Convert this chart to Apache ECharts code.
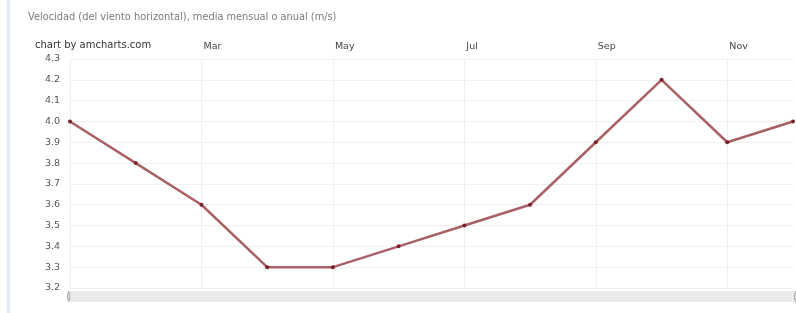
<!DOCTYPE html>
<html>
<head>
<meta charset="utf-8">
<script src="https://cdn.jsdelivr.net/npm/echarts@6/dist/echarts.min.js"></script>
<style>
  html, body { margin: 0; padding: 0; background: #fff; }
  #main { width: 796px; height: 313px; }
</style>
</head>
<body>
<div id="main"></div>
<script>
var months = ['Jan', 'Feb', 'Mar', 'Apr', 'May', 'Jun', 'Jul', 'Aug', 'Sep', 'Oct', 'Nov', 'Dec'];
var velocidad = [4.0, 3.8, 3.6, 3.3, 3.3, 3.4, 3.5, 3.6, 3.9, 4.2, 3.9, 4.0];

var chart = echarts.init(document.getElementById('main'));

// only every other month is labelled, starting at Mar
function showMonth(i) { return i % 2 === 0 && i > 0; }

var option = {
  animation: false,
  title: [
    {
      text: 'Velocidad (del viento horizontal), media mensual o anual (m/s)',
      left: 28, top: 12, padding: 0,
      textStyle: { fontSize: 9.8, fontWeight: 'normal', color: '#7a7a7a', fontFamily: 'DejaVu Sans' }
    },
    {
      text: 'chart by amcharts.com',
      left: 35, top: 40, padding: 0,
      textStyle: { fontSize: 10, fontWeight: 'normal', color: '#333', fontFamily: 'DejaVu Sans' }
    }
  ],
  graphic: [
    { type: 'rect', shape: { x: 7, y: 0, width: 3, height: 313 }, style: { fill: '#e3eaf7' } }
  ],
  grid: { left: 70, right: 3, top: 59, bottom: 25 },
  xAxis: {
    type: 'category',
    position: 'top',
    boundaryGap: false,
    data: months,
    axisLine: { show: false },
    axisTick: { show: false },
    axisLabel: {
      interval: function (i) { return showMonth(i); },
      align: 'left',
      padding: [0, 0, 0, 2],
      margin: 7,
      fontSize: 9.5,
      color: '#444',
      fontFamily: 'DejaVu Sans'
    },
    splitLine: {
      show: true,
      interval: function (i) { return i % 2 === 0; },
      lineStyle: { color: '#efefef', width: 1 }
    }
  },
  yAxis: {
    type: 'value',
    min: 3.2,
    max: 4.3,
    interval: 0.1,
    axisLine: { show: false },
    axisTick: { show: false },
    axisLabel: {
      margin: 10,
      fontSize: 9.5,
      color: '#555',
      fontFamily: 'DejaVu Sans',
      formatter: function (v) { return v.toFixed(1); }
    },
    splitLine: { lineStyle: { color: '#efefef', width: 1 } }
  },
  dataZoom: [{
    type: 'slider',
    xAxisIndex: 0,
    left: 67, right: 0, top: 291, height: 11,
    start: 0, end: 100,
    showDetail: false,
    showDataShadow: false,
    brushSelect: false,
    borderColor: 'transparent',
    backgroundColor: '#ebebeb',
    fillerColor: 'rgba(0,0,0,0)',
    handleSize: '100%',
    handleStyle: { color: '#e0e0e0', borderColor: '#aaa' },
    moveHandleSize: 0,
    dataBackground: { lineStyle: { opacity: 0 }, areaStyle: { opacity: 0 } }
  }],
  series: [{
    type: 'line',
    data: velocidad,
    symbol: 'circle',
    symbolSize: 4,
    lineStyle: { color: '#a86266', width: 2.5 },
    itemStyle: { color: '#7d1f2e' }
  }]
};

chart.setOption(option);
</script>
</body>
</html>
